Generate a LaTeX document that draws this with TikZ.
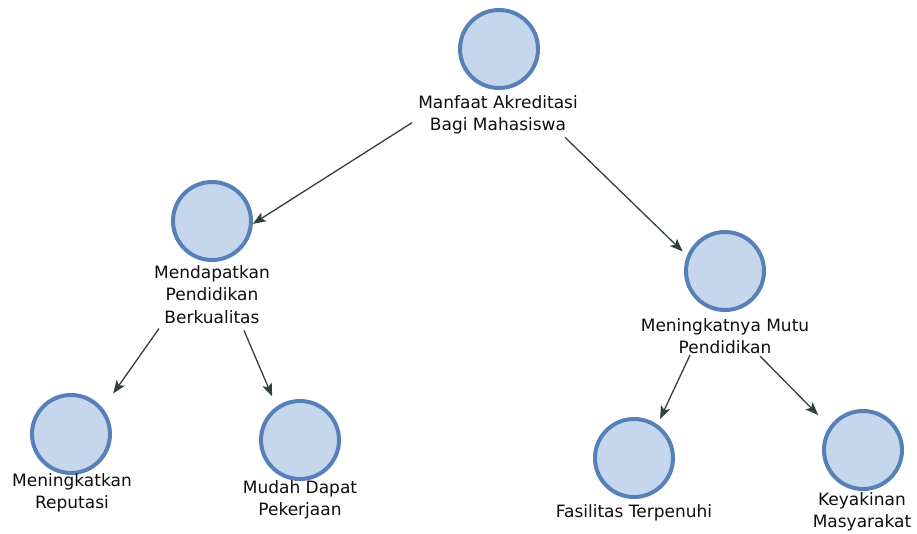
\documentclass[tikz,border=0pt]{standalone}
\usepackage{fontspec}
\setmainfont{DejaVu Sans}
\usetikzlibrary{arrows.meta,calc}
\definecolor{cfill}{RGB}{198,214,236}
\definecolor{cline}{RGB}{86,128,184}
\definecolor{carrow}{RGB}{48,64,62}
\begin{document}
\begin{tikzpicture}[x=1pt,y=-1pt,
  circ/.style={circle,draw=cline,fill=cfill,line width=4pt,minimum size=78pt,inner sep=0pt},
  lbl/.style={anchor=north,align=center,inner sep=0pt,font=\fontsize{17}{22.5}\selectfont,text=black!95},
  arr/.style={draw=carrow,line width=1.3pt,-{Stealth[length=13pt,width=10pt,inset=3pt]}}]
\useasboundingbox (0,0) rectangle (917,533);
% circles
\node[circ] (c0) at (499,49) {};
\node[circ] (c1) at (212,221) {};
\node[circ] (c2) at (725,271) {};
\node[circ] (c3) at (71,434) {};
\node[circ] (c4) at (300,440) {};
\node[circ] (c5) at (634,458) {};
\node[circ] (c6) at (863,450) {};
% labels
\node[lbl] (l0) at (498,95) {Manfaat Akreditasi\\Bagi Mahasiswa};
\node[lbl] (l1) at (212,265) {Mendapatkan\\Pendidikan\\Berkualitas};
\node[lbl] (l2) at (725,318) {Meningkatnya Mutu\\Pendidikan};
\node[lbl] (l3) at (72,473) {Meningkatkan\\Reputasi};
\node[lbl] (l4) at (300,480) {Mudah Dapat\\Pekerjaan};
\node[lbl] (l5) at (634,504) {Fasilitas Terpenuhi};
\node[lbl] (l6) at (862,492) {Keyakinan\\Masyarakat};
% connectors
\draw[arr] ($(l0.west)+(-6,8)$) -- (c1.-4);
\draw[arr,shorten >=6pt] ($(l0.south)+(67,3)$) -- (c2.158);
\draw[arr,shorten >=18pt] ($(l1.south)+(-53,5)$) -- (c3.39);
\draw[arr,shorten >=11pt] ($(l1.south)+(32,7)$) -- (c4.125);
\draw[arr,shorten >=6pt] ($(l2.south)+(-35,1)$) -- (c5.55);
\draw[arr,shorten >=16pt] ($(l2.south)+(35,2)$) -- (c6.145);
\end{tikzpicture}
\end{document}
